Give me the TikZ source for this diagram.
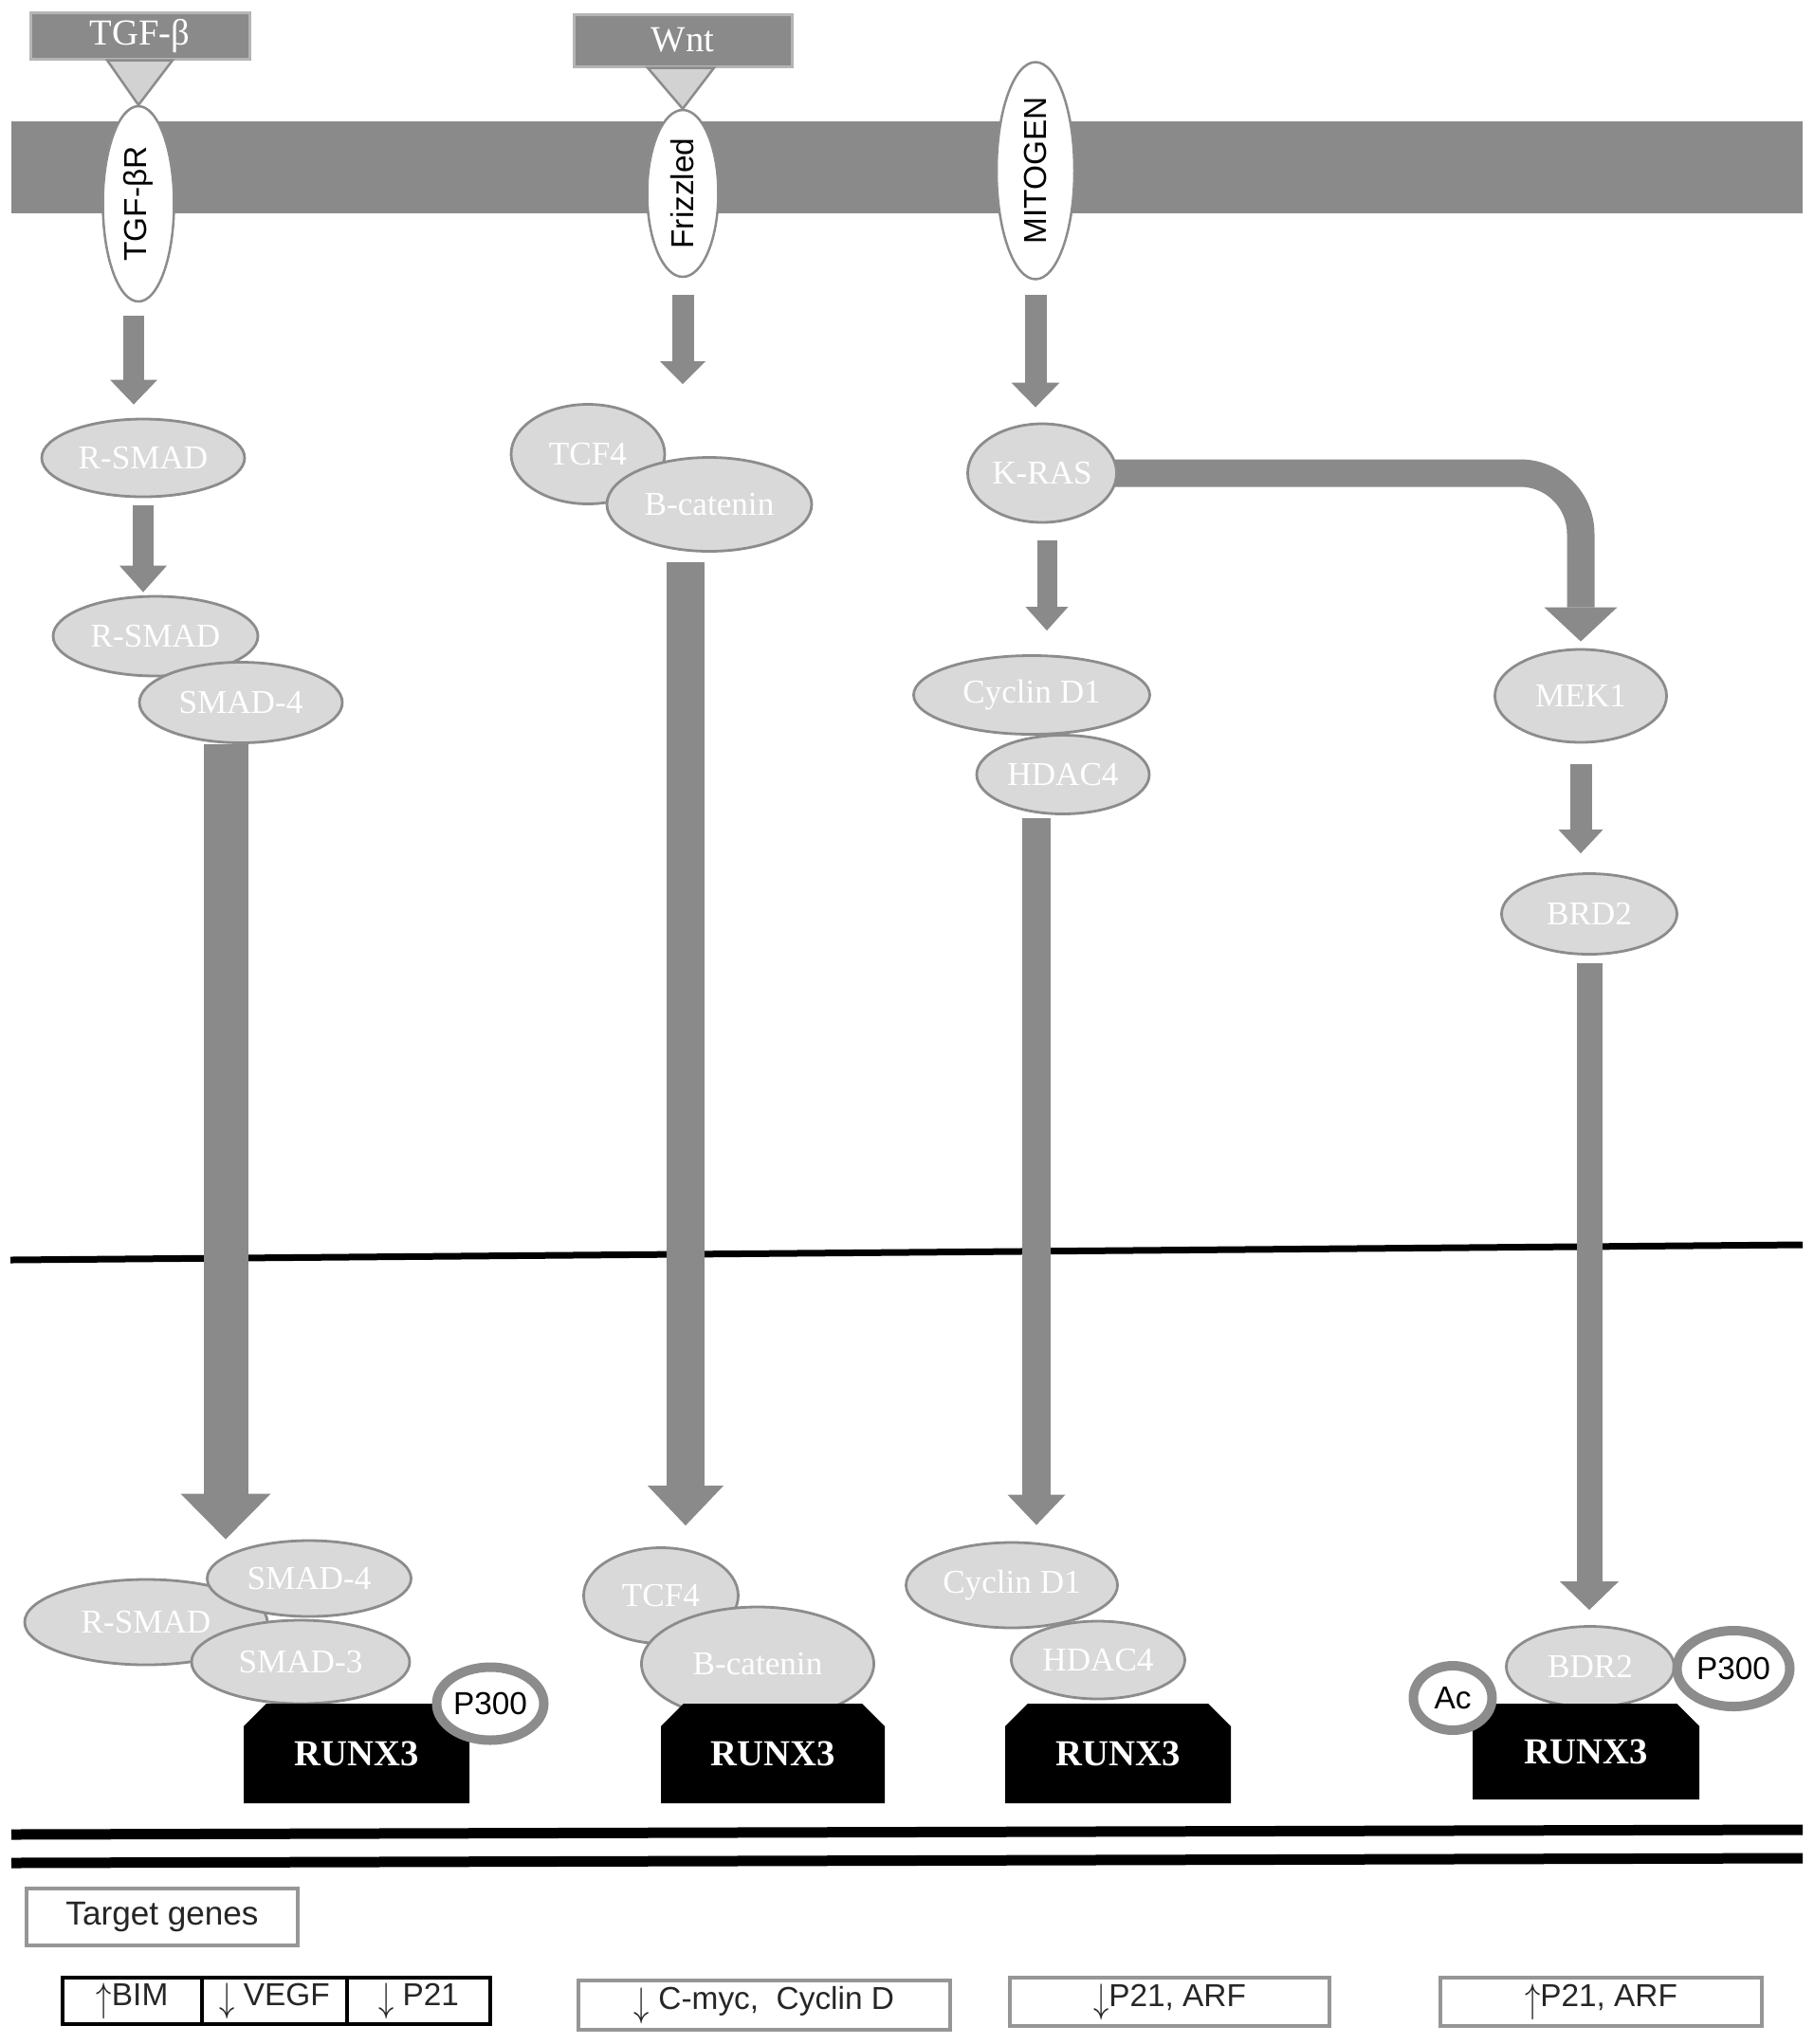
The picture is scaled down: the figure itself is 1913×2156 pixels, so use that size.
\documentclass[tikz,border=0pt]{standalone}
\usepackage{fontspec}
\setmainfont{Liberation Serif}
\setsansfont{Liberation Sans}
\usepackage{graphicx}
\usepackage{tikz}
\usetikzlibrary{shapes.geometric, shapes.misc, arrows.meta, calc}
\definecolor{sigGray}{RGB}{138, 138, 138}
\definecolor{protFill}{RGB}{217, 217, 217}
\definecolor{protLine}{RGB}{140, 140, 140}
\definecolor{triFill}{RGB}{210, 210, 210}
\definecolor{boxLine}{RGB}{150, 150, 150}
\newcommand{\uparr}{\raisebox{-0.35ex}{\scalebox{1}[1.35]{$\uparrow$}}}
\newcommand{\dnarr}{\raisebox{-0.35ex}{\scalebox{1}[1.35]{$\downarrow$}}}
\pgfdeclarelayer{back}
\pgfdeclarelayer{flow}
\pgfsetlayers{back,flow,main}

\begin{document}
\begin{tikzpicture}[
  x=0.1mm, y=-0.1mm,
  prot/.style={ellipse, draw=protLine, line width=0.28mm, fill=protFill,
               text=white, inner sep=0pt, font=\fontsize{10}{12}\selectfont},
  recep/.style={ellipse, draw=protLine, line width=0.25mm, fill=white,
                inner sep=0pt, font=\sffamily\fontsize{9.5}{11}\selectfont},
  ligand/.style={draw=boxLine!70, line width=0.3mm, fill=sigGray, text=white,
                 inner sep=0pt, font=\fontsize{11}{13}\selectfont},
  runx/.style={chamfered rectangle, chamfered rectangle corners={north west, north east},
               chamfered rectangle xsep=1.5mm, fill=black, text=white, inner sep=0pt,
               font=\bfseries\fontsize{11}{13}\selectfont},
  ring/.style={ellipse, draw=protLine, line width=1mm, fill=white,
               inner sep=0pt, font=\sffamily\fontsize{9.5}{11}\selectfont},
  gene/.style={draw=boxLine, line width=0.35mm, inner sep=0pt, text=black!85,
               font=\sffamily\fontsize{9.5}{11}\selectfont},
  sig/.style n args={3}{draw=sigGray, line width=#1,
                        -{Triangle[width=#2, length=#3, line width=0pt]}}
]
  % Membranes
  \begin{pgfonlayer}{back}
    \fill[white] (0,0) rectangle (1913,2156);
    \fill[sigGray] (12,128) rectangle (1901,225);
    \draw[line width=0.7mm] (11,1329) -- (1901,1313);
    \draw[line width=1.1mm] (12,1935) -- (1901,1930);
    \draw[line width=1.1mm] (12,1965) -- (1901,1960);
  \end{pgfonlayer}

  % Ligands and receptors
  \node[ligand, minimum width=23.1mm, minimum height=4.9mm] (tgf) at (147.5,37.5) {TGF-β};
  \node[ligand, minimum width=23mm, minimum height=5.5mm] (wnt) at (720,42.5) {Wnt};
  \node[recep, minimum width=7.5mm, minimum height=20.6mm] (tgfr) at (146,215) {\rotatebox{90}{TGF-βR}};
  \node[recep, minimum width=7.5mm, minimum height=17.6mm] (fzd) at (720,204) {\rotatebox{90}{Frizzled}};
  \node[recep, minimum width=8.2mm, minimum height=22.9mm] (mito) at (1092,180) {\rotatebox{90}{MITOGEN}};
  \draw[protLine, fill=triFill, line width=0.25mm]
    ([xshift=-3.45mm]tgf.south) -- ([xshift=3.45mm]tgf.south) -- (tgfr.north) -- cycle;
  \draw[protLine, fill=triFill, line width=0.25mm]
    ([xshift=-3.7mm]wnt.south) -- ([xshift=3.3mm]wnt.south) -- (fzd.north) -- cycle;

  % Cytoplasm
  \node[prot, minimum width=21.4mm, minimum height=8.2mm] (rsa) at (151,483) {R-SMAD};
  \node[prot, minimum width=21.6mm, minimum height=8.4mm] (rsb) at (164,671) {R-SMAD};
  \node[prot, minimum width=21.4mm, minimum height=8.5mm] (sfa) at (254,741) {SMAD-4};
  \node[prot, minimum width=16.2mm, minimum height=10.5mm] (tca) at (620,479) {TCF4};
  \node[prot, minimum width=21.6mm, minimum height=9.9mm] (bca) at (748,532) {B-catenin};
  \node[prot, minimum width=15.7mm, minimum height=10.4mm] (kras) at (1099,499) {K-RAS};
  \node[prot, minimum width=24.9mm, minimum height=8.3mm] (cya) at (1088,733) {Cyclin D1};
  \node[prot, minimum width=18.2mm, minimum height=8.3mm] (hda) at (1121,817) {HDAC4};
  \node[prot, minimum width=18.1mm, minimum height=9.8mm] (mek) at (1667,734) {MEK1};
  \node[prot, minimum width=18.5mm, minimum height=8.5mm] (brd) at (1676,964) {BRD2};

  % Nucleus
  \node[prot, minimum width=25.6mm, minimum height=9mm] (rsc) at (154,1711) {R-SMAD};
  \node[prot, minimum width=21.5mm, minimum height=8mm] (sfb) at (326,1665) {SMAD-4};
  \node[prot, minimum width=23mm, minimum height=8.8mm] (sth) at (317,1753) {SMAD-3};
  \node[prot, minimum width=16.3mm, minimum height=10.1mm] (tcb) at (697,1683) {TCF4};
  \node[prot, minimum width=24.5mm, minimum height=12mm] (bcb) at (799,1755) {B-catenin};
  \node[prot, minimum width=22.3mm, minimum height=9mm] (cyb) at (1067,1672) {Cyclin D1};
  \node[prot, minimum width=18.3mm, minimum height=8.2mm] (hdb) at (1158,1751) {HDAC4};
  \node[prot, minimum width=17.7mm, minimum height=8.5mm] (bdr) at (1677,1758) {BDR2};

  \node[runx, minimum width=23.8mm, minimum height=10.5mm] (rxa) at (376,1849.5) {RUNX3};
  \node[runx, minimum width=23.6mm, minimum height=10.5mm] (rxb) at (815,1849.5) {RUNX3};
  \node[runx, minimum width=23.8mm, minimum height=10.5mm] (rxc) at (1179,1849.5) {RUNX3};
  \node[runx, minimum width=23.9mm, minimum height=10.1mm] (rxd) at (1672.5,1847.5) {RUNX3};

  \node[ring, minimum width=11.3mm, minimum height=7.7mm] (pa) at (517,1797) {P300};
  \node[ring, minimum width=8.3mm, minimum height=6.8mm] (ac) at (1532,1791) {Ac};
  \node[ring, minimum width=11.9mm, minimum height=8mm] (pb) at (1828,1760) {P300};

  % Signalling arrows
  \begin{pgfonlayer}{flow}
    \draw[sig={2.2mm}{5mm}{2.6mm}, shorten <=1.4mm, shorten >=1.4mm]
      ([xshift=-0.5mm]tgfr.south) -- ([xshift=-0.5mm]tgfr.south |- rsa.north);
    \draw[sig={2.2mm}{5mm}{2.8mm}, shorten <=0.8mm, shorten >=0.3mm]
      (rsa.south) -- (rsa.south |- rsb.north);
    \draw[sig={4.7mm}{9.5mm}{4.8mm}]
      ([xshift=-1.6mm]sfa.south) -- ([xshift=-1.6mm]sfa.south |- sfb.north);
    \draw[sig={2.3mm}{4.8mm}{2.4mm}, shorten <=1.8mm, shorten >=2mm]
      (fzd.south) -- (fzd.south |- tca.north);
    \draw[sig={4mm}{8mm}{4.2mm}, shorten <=1mm, shorten >=2.2mm]
      ([xshift=-2.5mm]bca.south) -- ([xshift=-2.5mm]bca.south |- tcb.north);
    \draw[sig={2.3mm}{5.1mm}{2.6mm}, shorten <=1.5mm, shorten >=1.6mm]
      (mito.south) -- (mito.south |- kras.north);
    \draw[sig={2.1mm}{4.5mm}{2.5mm}, shorten <=1.8mm, shorten >=2.5mm]
      ([xshift=0.5mm]kras.south) -- ([xshift=0.5mm]kras.south |- cya.north);
    \draw[sig={2.9mm}{7.7mm}{3.6mm}, rounded corners=6.4mm, shorten >=0.7mm]
      (kras.center) -| (mek.north);
    \draw[sig={3mm}{6.1mm}{3.2mm}, shorten <=0.3mm, shorten >=1.7mm]
      ([xshift=-2.8mm]hda.south) -- ([xshift=-2.8mm]hda.south |- cyb.north);
    \draw[sig={2.3mm}{4.7mm}{2.5mm}, shorten <=2.2mm, shorten >=2mm]
      (mek.south) -- (mek.south |- brd.north);
    \draw[sig={2.7mm}{6.2mm}{3mm}, shorten <=0.8mm, shorten >=1.6mm]
      (brd.south) -- (brd.south |- bdr.north);
  \end{pgfonlayer}

  % Target genes
  \node[gene, minimum width=28.6mm, minimum height=6mm, font=\sffamily\fontsize{10}{12}\selectfont]
    (tg) at (171,2022) {Target genes};
  \node[gene, draw=black, minimum width=14.7mm, minimum height=4.9mm] (bim) at (139.5,2110.5) {\uparr BIM};
  \node[gene, draw=black, minimum width=15.3mm, minimum height=4.9mm] (vegf) at (289.5,2110.5) {\dnarr\ VEGF};
  \node[gene, draw=black, minimum width=15.1mm, minimum height=4.9mm] (p21) at (441.5,2110.5) {\dnarr\ P21};
  \node[gene, minimum width=39.2mm, minimum height=5.2mm] (cmyc) at (806,2115) {\dnarr\ C-myc,\ \ Cyclin D};
  \node[gene, minimum width=33.7mm, minimum height=5.1mm] (p21a) at (1233.5,2111.5) {\dnarr P21, ARF};
  \node[gene, minimum width=33.9mm, minimum height=5.1mm] (p21b) at (1688.5,2111.5) {\uparr P21, ARF};
\end{tikzpicture}
\end{document}
